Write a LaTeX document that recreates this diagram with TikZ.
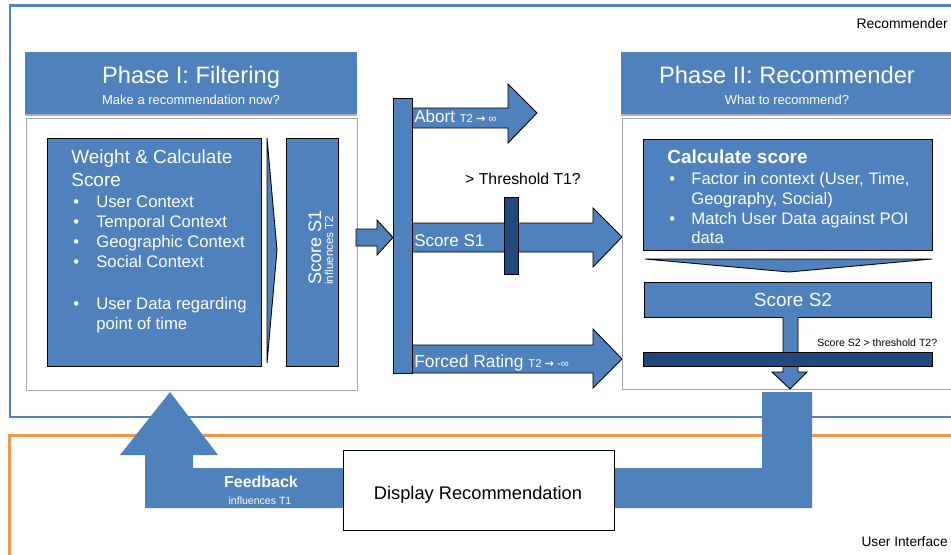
\documentclass[tikz,border=0pt]{standalone}
\usepackage{fontspec}
\setmainfont{Liberation Sans}
\newfontfamily\arrowfont{DejaVu Sans}
\usetikzlibrary{fit,shadows}
\definecolor{recblue}{HTML}{4F81BD}
\definecolor{darkblue}{HTML}{1F497D}
\definecolor{uiorange}{HTML}{F79646}
\definecolor{bodygray}{HTML}{A6A6A6}
\newcommand{\toarrow}{{\arrowfont\bfseries →}}

\begin{document}
\begin{tikzpicture}[x=0.02cm,y=-0.02cm,
  box/.style={draw=black,line width=0.5pt,fill=recblue,inner sep=0pt},
  bar/.style={draw=black,line width=0.5pt,fill=darkblue,inner sep=0pt},
  body/.style={draw=bodygray,line width=0.5pt,fill=white,inner sep=0pt},
  header/.style={fill=recblue,inner sep=0pt,
    drop shadow={shadow xshift=0pt,shadow yshift=-1.2pt,fill=black!45,opacity=.7}},
  wtxt/.style={text=white,inner sep=0pt},
  btxt/.style={text=black,inner sep=0pt},
  ttl/.style={font=\fontsize{13.5}{16}\selectfont},
  sub/.style={font=\fontsize{7.4}{9}\selectfont},
  big/.style={font=\fontsize{10.8}{13}\selectfont},
  item/.style={font=\fontsize{9.5}{11}\selectfont},
  tiny/.style={font=\fontsize{6}{7}\selectfont}]
  \useasboundingbox (0,0) rectangle (951,555);

  % outer frames
  \node[draw=recblue,line width=1.7pt,inner sep=0pt,fit={(10,5.5)(990,417)}] (recframe) {};
  \node[btxt,anchor=base east,font=\fontsize{7.9}{9}\selectfont] (reclbl) at (948,28) {Recommender};
  \node[draw=uiorange,line width=1.6pt,inner sep=0pt,fit={(9.3,435.5)(990,600)}] (uiframe) {};
  \node[btxt,anchor=base east,font=\fontsize{7.8}{9}\selectfont] (uilbl) at (948,546) {User Interface};

  % feedback loop through the user interface
  \fill[recblue] (145,508) -- (145,455) -- (120,455) -- (170,392) -- (218,455) -- (193,455)
    -- (193,468) -- (343,468) -- (343,508) -- cycle;
  \fill[recblue] (614,468) -- (762,468) -- (762,392) -- (812,392) -- (812,508) -- (614,508) -- cycle;
  \node[draw=black,line width=0.5pt,fill=white,inner sep=0pt,fit={(343,450)(614,530)}] (display) {};
  \node[btxt,anchor=base,font=\fontsize{10.4}{12}\selectfont] (displbl) at (478,499) {Display Recommendation};
  \node[wtxt,anchor=base,font=\bfseries\fontsize{9.1}{11}\selectfont] (fblbl) at (261,487) {Feedback};
  \node[wtxt,anchor=base,tiny] (fbsub) at (260,504) {influences T1};

  % Phase I: filtering
  \node[header,fit={(25,52)(357,114)}] (head1) {};
  \node[wtxt,anchor=base,ttl] (head1ttl) at (191,83) {Phase I: Filtering};
  \node[wtxt,anchor=base,sub] (head1sub) at (191,104) {Make a recommendation now?};
  \node[body,fit={(26,118)(357,390)}] (body1) {};
  \node[box,fit={(47,138)(261,366)}] (weight) {};
  \node[wtxt,anchor=base west,big] (wttl1) at (71,163) {Weight \& Calculate};
  \node[wtxt,anchor=base west,big] (wttl2) at (71,186) {Score};
  \foreach \y/\txt in {207/User Context,227/Temporal Context,247/Geographic Context,
                       267/Social Context,309/User Data regarding} {
    \node[wtxt,anchor=base west,item] (wb\y) at (73,\y) {\textbullet};
    \node[wtxt,anchor=base west,item] (wi\y) at (96,\y) {\txt};
  }
  \node[wtxt,anchor=base west,item] (wi329) at (96,329) {point of time};
  \draw[box] (267,138) -- (277,250) -- (267,363) -- cycle;
  \node[box,fit={(286,138)(338,366)}] (s1) {};
  \node[wtxt,rotate=90,anchor=base west,font=\fontsize{10.3}{12}\selectfont] (s1ttl) at (321,285) {Score S1};
  \node[wtxt,rotate=90,anchor=base west,font=\fontsize{6.6}{8}\selectfont] (s1sub) at (333,285) {influences T2};

  % split into three outcomes
  \draw[box] (356,229) -- (377,229) -- (377,220) -- (393,237.5) -- (377,255) -- (377,246) -- (356,246) -- cycle;
  \foreach \sa/\sb/\ha/\hb/\hx/\tx/\ty in {108/128/84/143/508/537/113,
                                          223/252/208/267/593/622/237,
                                          345/373/329/388/593/622/359} {
    \draw[box] (412,\sa) -- (\hx,\sa) -- (\hx,\ha) -- (\tx,\ty) -- (\hx,\hb) -- (\hx,\sb) -- (412,\sb);
  }
  \node[box,fit={(393,98)(412,373)}] (split) {};
  \node[wtxt,anchor=base west,font=\fontsize{9.7}{11}\selectfont] (abortlbl) at (414,122)
    {Abort {\fontsize{6.4}{7}\selectfont T2 \toarrow{} ∞}};
  \node[wtxt,anchor=base west,font=\fontsize{9.7}{11}\selectfont] (scorelbl) at (414,246) {Score S1};
  \node[wtxt,anchor=base west,font=\fontsize{9.9}{11}\selectfont] (forcedlbl) at (414,367)
    {Forced Rating {\fontsize{6.4}{7}\selectfont T2 \toarrow{} -∞}};
  \node[bar,fit={(504,197)(518,274)}] (thresh) {};
  \node[btxt,anchor=base,font=\fontsize{9}{11}\selectfont] (threshlbl) at (523,184) {> Threshold T1?};

  % Phase II: recommender
  \node[header,fit={(621,52)(953,114)}] (head2) {};
  \node[wtxt,anchor=base,ttl] (head2ttl) at (787,83) {Phase II: Recommender};
  \node[wtxt,anchor=base,sub] (head2sub) at (787,104) {What to recommend?};
  \node[body,fit={(622,118)(953,389)}] (body2) {};
  \node[box,fit={(643,139)(932,250)}] (calc) {};
  \node[wtxt,anchor=base west,font=\bfseries\fontsize{10.8}{13}\selectfont] (calcttl) at (667,163) {Calculate score};
  \foreach \y in {184,224} {
    \node[wtxt,anchor=base west,item] (cb\y) at (669,\y) {\textbullet};
  }
  \foreach \y/\txt in {184/{Factor in context (User, Time,},204/{Geography, Social)},
                       224/{Match User Data against POI},243/data} {
    \node[wtxt,anchor=base west,item] (ci\y) at (691,\y) {\txt};
  }
  \draw[box] (645,259) -- (932,259) -- (789,272) -- cycle;
  \node[box,fit={(644,282)(931,317)}] (s2) {};
  \node[wtxt,anchor=base,big] (s2lbl) at (793,306) {Score S2};
  \draw[box] (783,317) -- (783,372) -- (772,372) -- (790,389) -- (807,372) -- (798,372) -- (798,317);
  \node[bar,fit={(643,352)(932,366)}] (s2bar) {};
  \node[btxt,anchor=base west,tiny] (s2q) at (817,346) {Score S2 > threshold T2?};
\end{tikzpicture}
\end{document}
